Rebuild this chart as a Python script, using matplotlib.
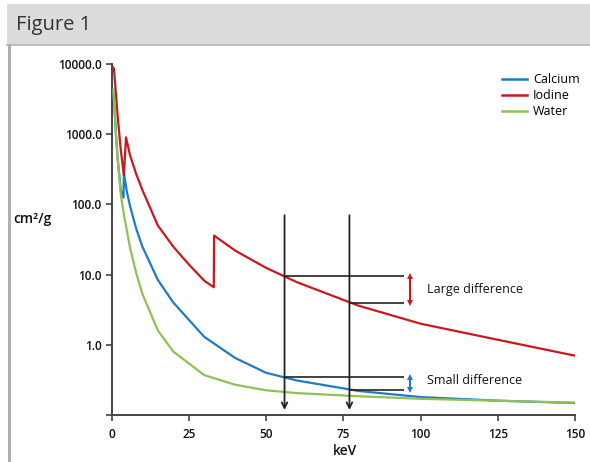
import matplotlib
matplotlib.use("Agg")
import matplotlib.pyplot as plt
from matplotlib.patches import Rectangle
from matplotlib.lines import Line2D
import numpy as np

# ---------------- data ----------------
energy_calcium = [0.6, 1, 1.5, 2, 3, 3.9, 4.0, 5, 6, 8, 10, 15, 20, 30, 40, 50, 60, 80, 100, 125, 150]
calcium = [4300, 2200, 900, 450, 160, 125, 280, 150, 95, 45, 25, 8.4, 4.0, 1.3, 0.65, 0.40, 0.31, 0.22, 0.18, 0.16, 0.148]

energy_iodine = [0.5, 0.8, 2, 3, 4.0, 4.7, 6, 8, 10, 15, 20, 25, 30, 33.1, 33.2, 40, 50, 60, 80, 100, 125, 150]
iodine = [9000, 8500, 1800, 600, 260, 900, 500, 270, 160, 50, 25, 14, 8.2, 6.6, 36, 22, 12.5, 7.8, 3.6, 2.0, 1.18, 0.7]

energy_water = [0.6, 1, 1.5, 2, 3, 4, 5, 6, 8, 10, 15, 20, 30, 40, 50, 60, 80, 100, 150]
water = [4300, 2200, 900, 450, 140, 72, 42, 24, 10.5, 5.3, 1.6, 0.8, 0.37, 0.27, 0.225, 0.205, 0.185, 0.17, 0.15]

series_names = ["Calcium", "Iodine", "Water"]
series_colors = ["#1f7bc6", "#c8191f", "#8fc155"]

x_ticks = [0, 25, 50, 75, 100, 125, 150]
y_ticks = [0.1, 1, 10, 100, 1000, 10000]
y_tick_labels = ["", "1.0", "10.0", "100.0", "1000.0", "10000.0"]

marker_energies = [56, 77]          # vertical arrows
iodine_at_markers = [9.6, 4.0]      # iodine values at marker energies
calcium_at_markers = [0.35, 0.23]   # calcium values at marker energies
guide_end = 94.7                    # end of horizontal guide lines (keV)
diff_arrow_x = 96.6                 # keV position of the double arrows

# ---------------- figure ----------------
fig = plt.figure(figsize=(5.9, 4.62), dpi=100)
plt.rcParams['font.family'] = ['Open Sans', 'DejaVu Sans']

# header band and frame
fig.add_artist(Rectangle((7/590, 1-45/462), 1-7/590, 41/462, transform=fig.transFigure,
                         facecolor="#dcdcdc", edgecolor="none", zorder=0))
fig.add_artist(Line2D([7/590, 1], [1-45/462, 1-45/462], transform=fig.transFigure,
                      color="#b4b4b4", lw=1.2))
fig.add_artist(Line2D([9/590, 9/590], [0, 1-45/462], transform=fig.transFigure,
                      color="#b0b0b0", lw=2.2))
fig.text(16/590, 1-25/462, "Figure 1", fontsize=14.5, color="#333333", va="center", ha="left")

ax = fig.add_axes([111.5/590, 1-415/462, (575-111.5)/590, (415-64)/462])
ax.set_yscale("log")
ax.set_xlim(0, 150)
ax.set_ylim(0.1, 10000)

ax.plot(energy_calcium, calcium, color=series_colors[0], lw=1.6, zorder=3)
ax.plot(energy_iodine, iodine, color=series_colors[1], lw=1.6, zorder=3)
ax.plot(energy_water, water, color=series_colors[2], lw=1.6, zorder=4)

# spines/ticks
for s in ["top", "right"]:
    ax.spines[s].set_visible(False)
for s in ["left", "bottom"]:
    ax.spines[s].set_color("#444444")
    ax.spines[s].set_linewidth(1.4)
ax.set_xticks(x_ticks)
ax.set_xticklabels([str(t) for t in x_ticks])
ax.set_yticks(y_ticks)
ax.set_yticklabels(y_tick_labels)
ax.yaxis.set_minor_locator(matplotlib.ticker.NullLocator())
ax.tick_params(axis="both", length=4, width=1.2, color="#444444", labelsize=8.5,
               labelcolor="#111111", pad=3)
ax.tick_params(axis="x", pad=5)
for lab in ax.get_xticklabels() + ax.get_yticklabels():
    lab.set_fontweight("semibold")

fig.text(13/590, 1-219/462, "cm²/g", fontsize=10, fontweight="semibold", color="#111111",
         va="center", ha="left")
fig.text(345/590, 1-451/462, "keV", fontsize=10, fontweight="semibold", color="#111111",
         va="center", ha="center")

# vertical arrows
for e in marker_energies:
    ax.annotate("", xy=(e, 0.118), xytext=(e, 70),
                arrowprops=dict(arrowstyle="->", lw=1.3, color="#222222",
                                shrinkA=0, shrinkB=0, mutation_scale=10), zorder=5)

# horizontal guide lines
ax.hlines(iodine_at_markers, marker_energies, guide_end, color="#222222", lw=1.2, zorder=5)
ax.hlines(calcium_at_markers, marker_energies, guide_end, color="#222222", lw=1.2, zorder=5)

# double arrows (line + small triangular heads)
for vals, col in [(iodine_at_markers, series_colors[1]), (calcium_at_markers, series_colors[0])]:
    ax.vlines(diff_arrow_x, vals[1], vals[0], color=col, lw=1.5, zorder=5)
    ax.plot([diff_arrow_x], [vals[0]], marker="^", ms=3.8, color=col, mew=0, zorder=6)
    ax.plot([diff_arrow_x], [vals[1]], marker="v", ms=3.8, color=col, mew=0, zorder=6)

ax.text(102, np.sqrt(iodine_at_markers[0]*iodine_at_markers[1]), "Large difference",
        fontsize=9, color="#111111", va="center", ha="left")
ax.text(102, 0.31, "Small difference",
        fontsize=9, color="#111111", va="center", ha="left")

# legend
handles = [Line2D([], [], color=c, lw=1.8) for c in series_colors]
leg = fig.legend(handles, series_names, loc="upper left", bbox_to_anchor=(502/590, 1-73/462),
                 frameon=False, fontsize=9, handlelength=2.0, handletextpad=0.5,
                 labelspacing=0.25, borderaxespad=0, borderpad=0)

fig.savefig("out.png", dpi=100)
